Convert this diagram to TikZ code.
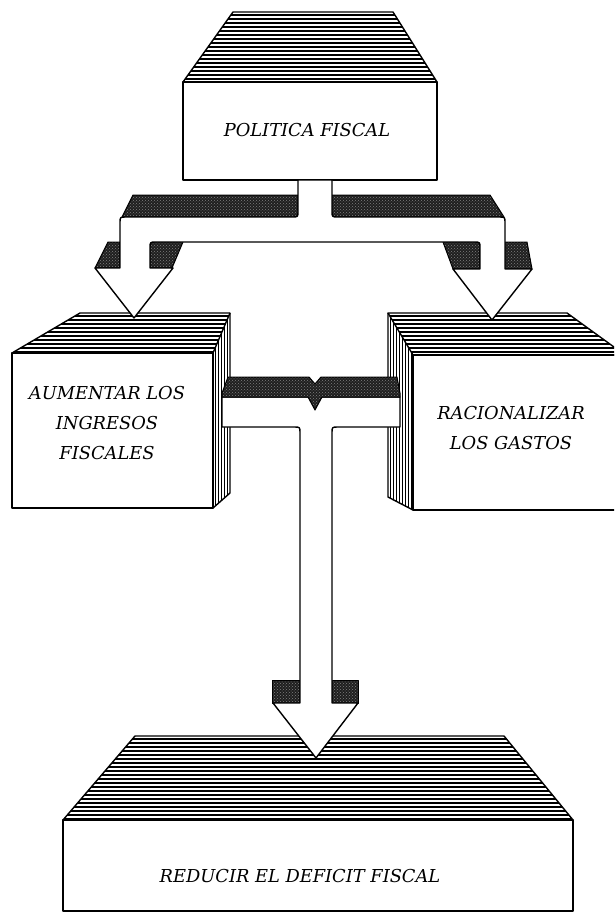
\documentclass[tikz,border=0pt]{standalone}
\usepackage{fontspec}
\setmainfont{DejaVu Serif}
\usetikzlibrary{patterns}
\begin{document}
\begin{tikzpicture}[x=1pt,y=-1pt, line join=round,
  outl/.style={line width=1.4pt},
  edge/.style={line width=2.4pt},
  hatch/.style={line width=1.7pt},
  vhatch/.style={line width=0.9pt},
  dark/.style={preaction={fill=black!88}, pattern=crosshatch dots, pattern color=black!50, draw=black, line width=1pt},
  lbl/.style={font=\fontsize{17.8}{30}\selectfont\itshape, align=center, inner sep=0pt}]
\useasboundingbox (0,0) rectangle (614,913);
\clip (0,0) rectangle (614,913);

% ---------- top box ----------
\begin{scope}
  \clip (233,12) -- (393,12) -- (437,82) -- (183,82) -- cycle;
  \foreach \y in {15,19,...,83} \draw[hatch] (150,\y) -- (480,\y);
\end{scope}
\draw[outl] (233,12) -- (393,12) -- (437,82) -- (183,82) -- cycle;
\draw[outl, fill=white] (183,82) rectangle (437,180);
\draw[edge] (183,82) -- (437,82);
\node[lbl] (pf) at (307,130) {POLITICA FISCAL};

% ---------- left cube ----------
\begin{scope}
  \clip (12,353) -- (80,313) -- (230,313) -- (213,353) -- cycle;
  \foreach \y in {316,320,...,356} \draw[hatch] (0,\y) -- (240,\y);
\end{scope}
\begin{scope}
  \clip (213,353) -- (230,313) -- (230,493) -- (213,508) -- cycle;
  \foreach \x in {215,218,...,231} \draw[vhatch] (\x,300) -- (\x,520);
\end{scope}
\draw[outl] (12,353) -- (80,313) -- (230,313) -- (230,493) -- (213,508);
\draw[outl] (213,353) -- (230,313);
\draw[outl, fill=white] (12,353) rectangle (213,508);
\draw[edge] (12,353) -- (213,353);
\node[lbl] (ai) at (107,423) {AUMENTAR LOS\\INGRESOS\\FISCALES};

% ---------- right cube ----------
\begin{scope}
  \clip (388,313) -- (567,313) -- (625,355) -- (413,355) -- cycle;
  \foreach \y in {316,320,...,356} \draw[hatch] (380,\y) -- (630,\y);
\end{scope}
\begin{scope}
  \clip (388,313) -- (413,355) -- (413,510) -- (388,497) -- cycle;
  \foreach \x in {390,393,...,414} \draw[vhatch] (\x,300) -- (\x,520);
\end{scope}
\draw[outl] (413,355) -- (388,313) -- (567,313) -- (625,355);
\draw[outl] (388,313) -- (388,497) -- (413,510);
\draw[outl, fill=white] (413,355) rectangle (630,510);
\draw[edge] (413,355) -- (630,355);
\node[lbl] (rg) at (511,428) {RACIONALIZAR\\LOS GASTOS};

% ---------- bottom box ----------
\begin{scope}
  \clip (135,736) -- (504,736) -- (573,820) -- (63,820) -- cycle;
  \foreach \y in {739,743,...,821} \draw[hatch] (50,\y) -- (590,\y);
\end{scope}
\draw[outl] (135,736) -- (504,736) -- (573,820) -- (63,820) -- cycle;
\draw[outl, fill=white] (63,820) rectangle (573,911);
\draw[edge] (63,820) -- (573,820);
\node[lbl] (rd) at (300,876) {REDUCIR EL DEFICIT FISCAL};

% ---------- top T arrow ----------
\draw[dark] (133,195) -- (298,195) -- (298,217) -- (122,217) -- cycle;
\draw[dark] (332,195) -- (490,195) -- (504,217) -- (332,217) -- cycle;
\draw[dark] (108,242) -- (120,242) -- (120,268) -- (95,268) -- cycle;
\draw[dark] (150,242) -- (183,242) -- (172,268) -- (150,268) -- cycle;
\draw[dark] (443,242) -- (480,242) -- (480,269) -- (453,269) -- cycle;
\draw[dark] (505,242) -- (527,242) -- (532,269) -- (505,269) -- cycle;
\draw[outl, fill=white] (298,180) -- (298,211) .. controls (298,217) .. (292,217)
  -- (126,217) .. controls (120,217) .. (120,223) -- (120,268) -- (95,268)
  -- (134,318) -- (173,268) -- (150,268) -- (150,248) .. controls (150,242) .. (156,242)
  -- (474,242) .. controls (480,242) .. (480,248) -- (480,269) -- (453,269)
  -- (492,320) -- (532,269) -- (505,269) -- (505,223) .. controls (505,217) .. (499,217)
  -- (338,217) .. controls (332,217) .. (332,211) -- (332,180) -- cycle;

% ---------- middle connector ----------
\draw[dark] (272,680) rectangle (300,703);
\draw[dark] (332,680) rectangle (358,703);
\draw[outl, fill=white] (222,397) -- (400,397) -- (400,427) -- (338,427)
  .. controls (332,427) .. (332,433) -- (332,703) -- (358,703) -- (316,758)
  -- (273,703) -- (300,703) -- (300,433) .. controls (300,427) .. (294,427)
  -- (222,427) -- cycle;
\draw[dark] (228,377) -- (309,377) -- (315,384) -- (321,377) -- (397,377)
  -- (400,393) -- (400,397) -- (322,397) -- (315,410) -- (308,397)
  -- (222,397) -- (222,393) -- cycle;
\end{tikzpicture}
\end{document}
